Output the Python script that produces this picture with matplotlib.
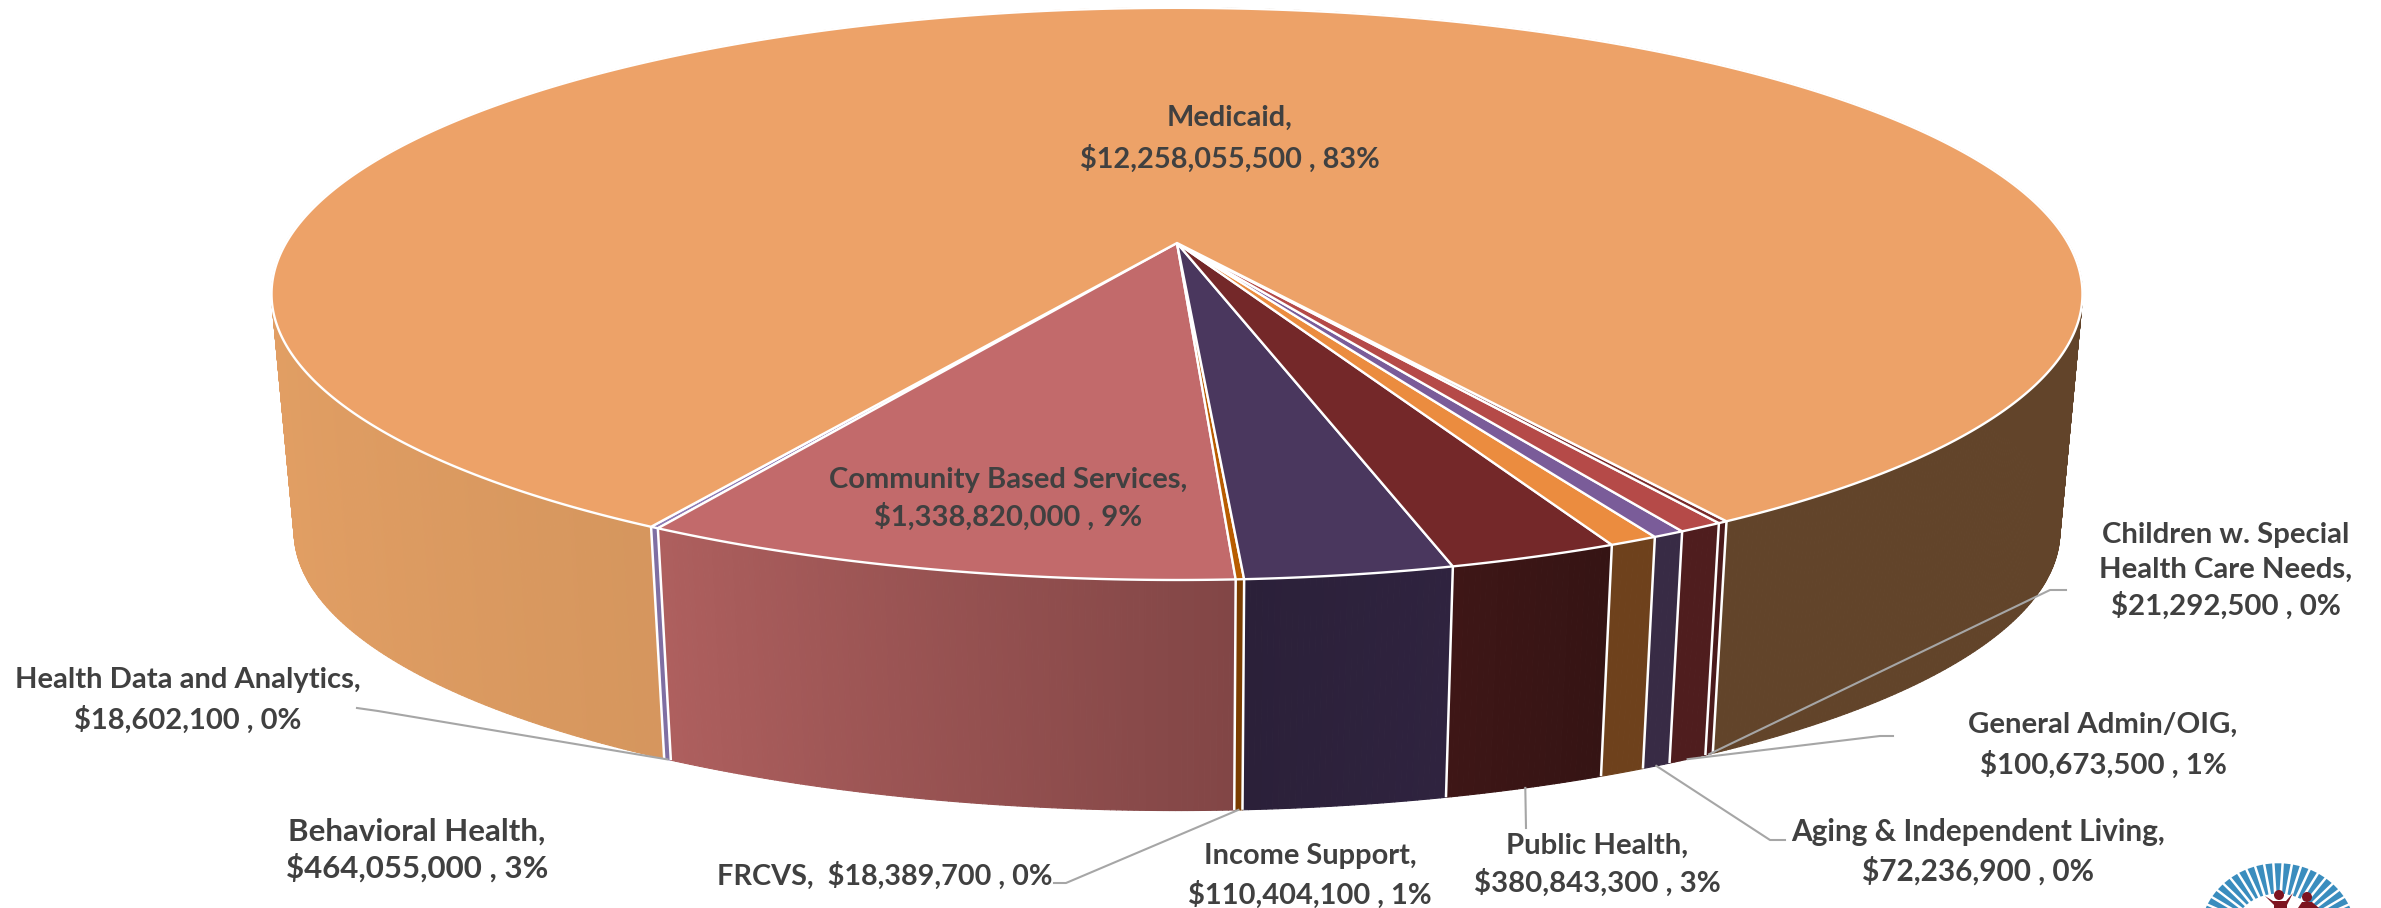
import numpy as np
import matplotlib
matplotlib.use('Agg')
import matplotlib.pyplot as plt
from matplotlib.collections import PolyCollection
from matplotlib.colors import to_rgb
from matplotlib.patches import Circle, Polygon

plt.rcParams['font.family'] = ['Lato', 'DejaVu Sans']

# Slices in drawing order, going left to right along the front of the pie
names = ['Health Data and Analytics', 'Community Based Services', 'FRCVS', 'Behavioral Health',
         'Public Health', 'Income Support', 'Aging & Independent Living', 'General Admin/OIG',
         'Children w. Special Health Care Needs', 'Medicaid']
values = [18602100, 1338820000, 18389700, 464055000, 380843300, 110404100, 72236900,
          100673500, 21292500, 12258055500]
percents = [0, 9, 0, 3, 3, 1, 0, 1, 0, 83]

top_colors = ['#8E7CB5', '#C26A6B', '#B85C00', '#4A375E', '#742829', '#EB8C3F', '#7A5C99',
              '#B54A48', '#7A2B2A', '#EDA268']
wall_left = ['#7F6FA3', '#AE5F5E', '#7A3D00', '#2B2039', '#3E1616', '#6E411C', '#382B45',
             '#4F1D1E', '#4A1A1B', '#62442A']
wall_right = ['#7F6FA3', '#824646', '#7A3D00', '#2F233F', '#351414', '#6E411C', '#382B45',
              '#4F1D1E', '#4A1A1B', '#62442A']

# Perspective of the pie, in pixels of the figure
cx, cy = 1177, 243
a, b, k = 891, 277, 0.178
drop, shrink = 239, 0.975
start_deg = -29.95


def top_xy(theta):
    X, Y = np.sin(theta), np.cos(theta)
    w = 1 - k * Y
    return cx + a * X / w, cy + b * Y / w


def bottom_xy(theta):
    x, y = top_xy(theta)
    return cx + shrink * (x - cx), cy + drop + shrink * (y - cy)


fig = plt.figure(figsize=(23.81, 9.08), dpi=100)
ax = fig.add_axes([0, 0, 1, 1])
ax.set_xlim(0, 2381)
ax.set_ylim(908, 0)
ax.axis('off')

fractions = np.array(values, dtype=float) / sum(values)
edges = np.radians(start_deg) + np.concatenate([[0], np.cumsum(fractions)]) * 2 * np.pi
mids = (edges[:-1] + edges[1:]) / 2

# Side walls as thin strips so the shading can run along them
polys, facecolors, depths = [], [], []
for i in range(len(values)):
    n = max(4, int((edges[i + 1] - edges[i]) * 180))
    t = np.linspace(edges[i], edges[i + 1], n + 1)
    for j in range(n):
        x0, y0 = top_xy(t[j])
        x1, y1 = top_xy(t[j + 1])
        x2, y2 = bottom_xy(t[j + 1])
        x3, y3 = bottom_xy(t[j])
        tm = (t[j] + t[j + 1]) / 2
        if names[i] == 'Medicaid':
            # right hand wall is flat brown, left hand wall is lit
            s = np.sin(tm)
            if s > 0:
                col = to_rgb('#62442A')
            else:
                f = np.clip(-s, 0, 1)
                c0, c1 = np.array(to_rgb('#C98D57')), np.array(to_rgb('#E29F64'))
                col = tuple(c0 + (c1 - c0) * f)
        else:
            f = j / max(n - 1, 1)
            c0, c1 = np.array(to_rgb(wall_left[i])), np.array(to_rgb(wall_right[i]))
            col = tuple(c0 + (c1 - c0) * f)
        polys.append([(x0, y0), (x1, y1), (x2, y2), (x3, y3)])
        facecolors.append(col)
        depths.append(np.cos(tm))
order = np.argsort(depths)
ax.add_collection(PolyCollection([polys[i] for i in order], facecolors=[facecolors[i] for i in order],
                                 edgecolors=[facecolors[i] for i in order], linewidths=0.8, zorder=1))

# White separators on the visible part of the wall
for e in edges[:-1]:
    if np.cos(e) > 0:
        x0, y0 = top_xy(e)
        x1, y1 = bottom_xy(e)
        ax.plot([x0, x1], [y0, y1], color='white', lw=1.8, zorder=2, solid_capstyle='butt')

# Top surface
for i in range(len(values)):
    t = np.linspace(edges[i], edges[i + 1], max(3, int((edges[i + 1] - edges[i]) * 180)))
    xs, ys = top_xy(t)
    pts = np.column_stack([np.r_[cx, xs], np.r_[cy, ys]])
    ax.add_patch(Polygon(pts, closed=True, facecolor=top_colors[i], edgecolor='white', lw=1.7,
                         joinstyle='round', zorder=3))


def label_text(i):
    return f'${values[i]:,} , {percents[i]}%'


text_kw = dict(color='#404040', fontweight='bold', ha='center', va='center', zorder=6)
ax.text(1230, 139, f'{names[9]},\n{label_text(9)}', fontsize=20.8, linespacing=1.6, **text_kw)
ax.text(1008, 499, f'{names[1]},\n{label_text(1)}', fontsize=21, linespacing=1.45, **text_kw)
ax.text(188, 700, f'{names[0]},\n{label_text(0)}', fontsize=21, linespacing=1.55, **text_kw)
ax.text(417, 850, f'{names[3]},\n{label_text(3)}', fontsize=22.5, linespacing=1.32, **text_kw)
ax.text(885, 876, f'{names[2]},  {label_text(2)}', fontsize=20.7, **text_kw)
ax.text(1310, 876, f'{names[5]},\n{label_text(5)}', fontsize=20.9, linespacing=1.5, **text_kw)
ax.text(1597, 865, f'{names[4]},\n{label_text(4)}', fontsize=21.2, linespacing=1.4, **text_kw)
ax.text(1978, 852, f'{names[6]},\n{label_text(6)}', fontsize=21.4, linespacing=1.4, **text_kw)
ax.text(2103, 745, f'{names[7]},\n{label_text(7)}', fontsize=21.2, linespacing=1.55, **text_kw)
ax.text(2226, 571, f'Children w. Special\nHealth Care Needs,\n{label_text(8)}', fontsize=21.2,
        linespacing=1.4, **text_kw)

# Leader lines: from the rim of a slice to the label elbow
leaders = {0: [(378, 711), (357, 708)], 2: [(1066, 883), (1054, 883)], 4: [(1526, 828)],
           6: [(1770, 840), (1785, 840)], 7: [(1880, 736), (1893, 736)], 8: [(2050, 590), (2066, 590)]}
for i, elbow in leaders.items():
    x0, y0 = bottom_xy(mids[i])
    xs = [x0] + [p[0] for p in elbow]
    ys = [y0] + [p[1] for p in elbow]
    ax.plot(xs, ys, color='#A6A6A6', lw=1.5, zorder=5)

# Logo cut by the lower edge of the picture
logo_x, logo_y = 2278, 935
logo_rays = np.linspace(8, 172, 25)
for ang in logo_rays:
    d = np.radians(ang)
    w = np.radians(2.5)
    ra0, ra1 = 46, 78
    pts = [(logo_x + ra0 * np.cos(d - w * 0.7), logo_y - 0.9 * ra0 * np.sin(d - w * 0.7)),
           (logo_x + ra1 * np.cos(d - w), logo_y - 0.92 * ra1 * np.sin(d - w)),
           (logo_x + ra1 * np.cos(d + w), logo_y - 0.92 * ra1 * np.sin(d + w)),
           (logo_x + ra0 * np.cos(d + w * 0.7), logo_y - 0.9 * ra0 * np.sin(d + w * 0.7))]
    ax.add_patch(Polygon(pts, closed=True, facecolor='#3A8DBE', edgecolor='none', zorder=4))
for hx, hy, r in [(2279, 895, 5), (2307, 897, 5)]:
    ax.add_patch(Circle((hx, hy), r, facecolor='#7D1420', edgecolor='none', zorder=5))
ax.add_patch(Polygon([(2265, 896), (2273, 901), (2286, 901), (2293, 893), (2287, 905), (2287, 908),
                      (2274, 908), (2274, 905)], closed=True, facecolor='#7D1420', edgecolor='none', zorder=5))
ax.add_patch(Polygon([(2298, 908), (2302, 902), (2312, 902), (2319, 908)], closed=True,
                     facecolor='#7D1420', edgecolor='none', zorder=5))

fig.savefig('out.png', dpi=100)
